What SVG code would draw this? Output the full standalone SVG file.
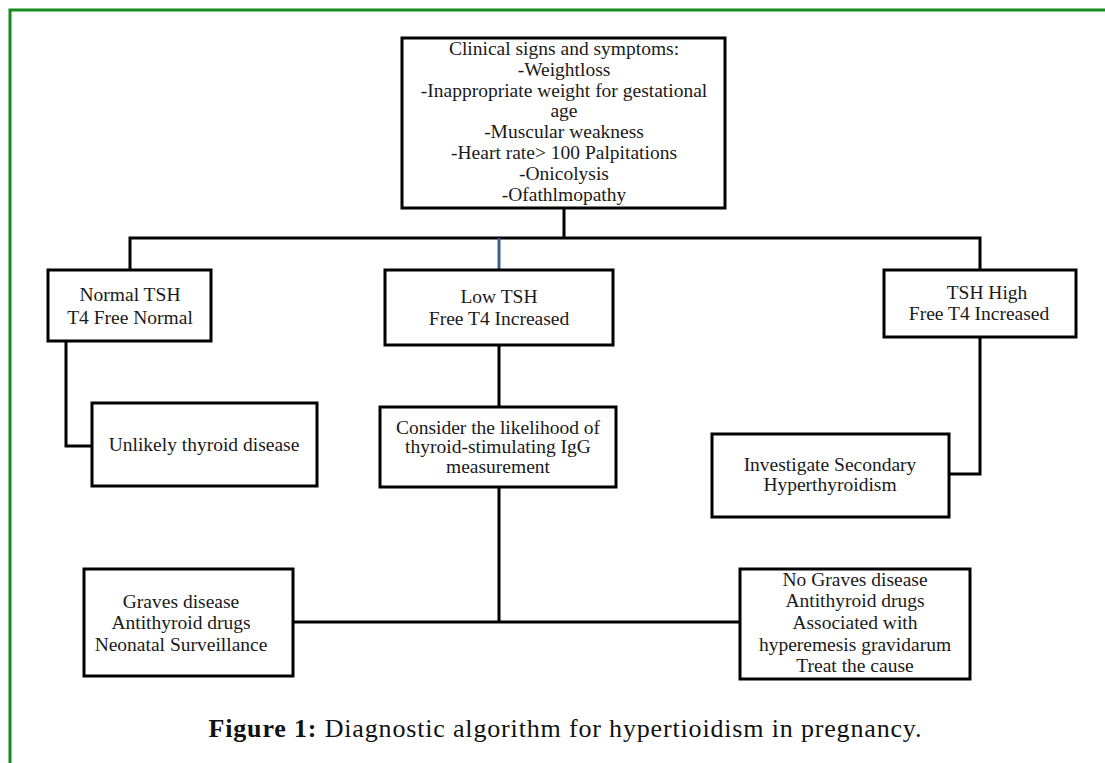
<svg xmlns="http://www.w3.org/2000/svg" width="1105" height="763" viewBox="0 0 1105 763">
<style>
.box{fill:#fff;stroke:#000;stroke-width:3}
.t{font-family:"Liberation Serif",serif;font-size:19.5px;fill:#1a1a1a;text-anchor:middle}
.ln{fill:none;stroke:#000;stroke-width:3}
.cap{font-family:"Liberation Serif",serif;font-size:26px;fill:#111;text-anchor:middle}
</style>
<rect width="1105" height="763" fill="#fff"/>
<path d="M10 763 V10 H1105" fill="none" stroke="#168a1e" stroke-width="3"/>
<g id="connectors">
<path class="ln" d="M564 208 V238 M130 270 V238 H980 V270"/>
<path d="M499 238 V270" stroke="#3b5e8c" stroke-width="3" fill="none"/>
<path class="ln" d="M66 341 V446 H92"/>
<path class="ln" d="M499 345 V407"/>
<path class="ln" d="M499 487 V622 M293 622 H740"/>
<path class="ln" d="M980 337 V474 H949"/>
</g>
<g id="n-clinical">
<rect class="box" x="402" y="38" width="323" height="170"/>
<text class="t" x="564" y="55">Clinical signs and symptoms:</text>
<text class="t" x="564" y="76">-Weightloss</text>
<text class="t" x="564" y="97">-Inappropriate weight for gestational</text>
<text class="t" x="564" y="117">age</text>
<text class="t" x="564" y="138">-Muscular weakness</text>
<text class="t" x="564" y="159">-Heart rate&gt; 100 Palpitations</text>
<text class="t" x="564" y="180">-Onicolysis</text>
<text class="t" x="564" y="201">-Ofathlmopathy</text>
</g>
<g id="n-normal">
<rect class="box" x="48" y="270" width="163" height="71"/>
<text class="t" x="130" y="301">Normal TSH</text>
<text class="t" x="130" y="324">T4 Free Normal</text>
</g>
<g id="n-low">
<rect class="box" x="385" y="270" width="228" height="75"/>
<text class="t" x="499" y="303">Low TSH</text>
<text class="t" x="499" y="325">Free T4 Increased</text>
</g>
<g id="n-high">
<rect class="box" x="884" y="270" width="192" height="67"/>
<text class="t" x="987" y="299">TSH High</text>
<text class="t" x="979" y="320">Free T4 Increased</text>
</g>
<g id="n-unlikely">
<rect class="box" x="92" y="403" width="225" height="83"/>
<text class="t" x="204" y="451">Unlikely thyroid disease</text>
</g>
<g id="n-consider">
<rect class="box" x="380" y="407" width="236" height="80"/>
<text class="t" x="498" y="434">Consider the likelihood of</text>
<text class="t" x="498" y="453">thyroid-stimulating IgG</text>
<text class="t" x="498" y="473">measurement</text>
</g>
<g id="n-investigate">
<rect class="box" x="712" y="434" width="237" height="83"/>
<text class="t" x="830" y="471">Investigate Secondary</text>
<text class="t" x="830" y="491">Hyperthyroidism</text>
</g>
<g id="n-graves">
<rect class="box" x="84" y="569" width="209" height="107"/>
<text class="t" x="181" y="608">Graves disease</text>
<text class="t" x="181" y="629">Antithyroid drugs</text>
<text class="t" x="181" y="651">Neonatal Surveillance</text>
</g>
<g id="n-nograves">
<rect class="box" x="740" y="569" width="230" height="110"/>
<text class="t" x="855" y="586">No Graves disease</text>
<text class="t" x="855" y="607">Antithyroid drugs</text>
<text class="t" x="855" y="629">Associated with</text>
<text class="t" x="855" y="651">hyperemesis gravidarum</text>
<text class="t" x="855" y="672">Treat the cause</text>
</g>
<text class="cap" x="565" y="737" textLength="713" lengthAdjust="spacing"><tspan font-weight="bold">Figure 1:</tspan> Diagnostic algorithm for hypertioidism in pregnancy.</text>
</svg>
